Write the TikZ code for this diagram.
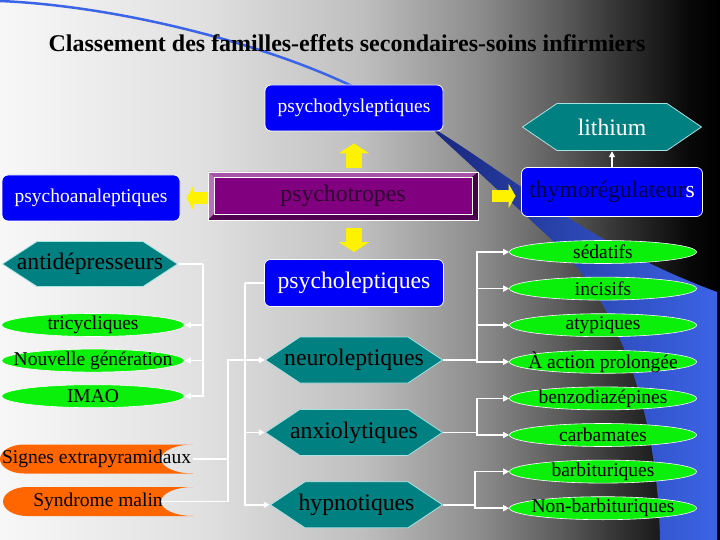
\documentclass[tikz,border=0pt]{standalone}
\usepackage{fontspec}
\setmainfont{Liberation Serif}
\usetikzlibrary{positioning,arrows.meta,shapes.geometric}

\definecolor{boxblue}{RGB}{0,0,250}
\definecolor{hexteal}{RGB}{0,128,128}
\definecolor{hexedge}{RGB}{170,225,225}
\definecolor{pillgreen}{RGB}{10,240,10}
\definecolor{taborange}{RGB}{255,102,0}
\definecolor{tropmid}{RGB}{128,0,128}
\definecolor{tropleft}{RGB}{184,112,184}
\definecolor{troptop}{RGB}{164,84,164}
\definecolor{tropdark}{RGB}{70,0,70}
\definecolor{tropink}{RGB}{45,0,45}
\definecolor{thymink}{RGB}{0,0,70}
\definecolor{arcblue}{RGB}{60,100,230}
\definecolor{arcnavy}{RGB}{25,40,125}

\pgfdeclarehorizontalshading{bgfade}{100bp}{color(0bp)=(white!97!black); color(25bp)=(white!97!black);
  color(38.9bp)=(white!88!black); color(50bp)=(white!75!black); color(58.3bp)=(white!55!black);
  color(63.9bp)=(white!36!black); color(68bp)=(white!20!black); color(72.9bp)=(white!3!black);
  color(75bp)=(black); color(100bp)=(black)}

\newcommand{\titlelab}{\fontsize{24pt}{26pt}\selectfont\bfseries}
\newcommand{\largelab}{\fontsize{23.7pt}{26pt}\selectfont}
\newcommand{\smalllab}{\fontsize{19.5pt}{22pt}\selectfont}

\begin{document}
\begin{tikzpicture}[x=1pt,y=-1pt,
    every node/.style={inner sep=0pt},
    rbox/.style={rectangle,rounded corners=6pt,fill=boxblue,draw=white,line width=0.8pt,
      minimum width=179pt,minimum height=47pt,text=white,font=\largelab},
    hexa/.style={rectangle,minimum width=178pt,minimum height=47pt,font=\largelab,
      path picture={\fill[hexteal,draw=hexedge,line width=0.8pt]
        ([xshift=0.5pt]path picture bounding box.west)
        -- ([xshift=35pt,yshift=-0.5pt]path picture bounding box.north west)
        -- ([xshift=-35pt,yshift=-0.5pt]path picture bounding box.north east)
        -- ([xshift=-0.5pt]path picture bounding box.east)
        -- ([xshift=-35pt,yshift=0.5pt]path picture bounding box.south east)
        -- ([xshift=35pt,yshift=0.5pt]path picture bounding box.south west) -- cycle;}},
    pill/.style={ellipse,fill=pillgreen,draw=white,line width=0.6pt,minimum width=187pt,
      minimum height=23pt,inner xsep=-20pt,inner ysep=-10pt,font=\smalllab},
    tab/.style={rectangle,minimum width=193pt,minimum height=29pt,font=\smalllab,
      path picture={\fill[taborange]
        ([xshift=24pt]path picture bounding box.north west) -- (path picture bounding box.north east)
        arc[start angle=90,end angle=270,x radius=32pt,y radius=14.5pt]
        -- ([xshift=24pt]path picture bounding box.south west)
        arc[start angle=270,end angle=90,x radius=24pt,y radius=14.5pt] -- cycle;}},
    tropbox/.style={rectangle,fill=tropmid,draw=white,line width=0.8pt,minimum width=270pt,
      minimum height=48pt,font=\largelab,text=tropink,
      path picture={
        \fill[troptop] (path picture bounding box.north west) -- (path picture bounding box.north east)
          -- ([shift={(-6pt,-5pt)}]path picture bounding box.north east)
          -- ([shift={(6pt,-5pt)}]path picture bounding box.north west) -- cycle;
        \fill[tropleft] (path picture bounding box.north west) -- (path picture bounding box.south west)
          -- ([shift={(6pt,6pt)}]path picture bounding box.south west)
          -- ([shift={(6pt,-5pt)}]path picture bounding box.north west) -- cycle;
        \fill[tropdark] (path picture bounding box.north east) -- (path picture bounding box.south east)
          -- ([shift={(-6pt,6pt)}]path picture bounding box.south east)
          -- ([shift={(-6pt,-5pt)}]path picture bounding box.north east) -- cycle;
        \fill[tropdark!80!tropmid] (path picture bounding box.south west) -- (path picture bounding box.south east)
          -- ([shift={(-6pt,6pt)}]path picture bounding box.south east)
          -- ([shift={(6pt,6pt)}]path picture bounding box.south west) -- cycle;
        \draw[white,line width=0.6pt] ([shift={(6pt,-5pt)}]path picture bounding box.north west)
          rectangle ([shift={(-6pt,6pt)}]path picture bounding box.south east);}},
    link/.style={white,line width=1.6pt,-{Triangle[length=6pt,width=6pt]}},
    wire/.style={white,line width=1.6pt},
    vertarrow/.style={yellow,line width=16pt,-{Triangle[length=10pt,width=30pt]}},
    horzarrow/.style={yellow,line width=12pt,-{Triangle[length=7pt,width=24pt]}}]

  % background
  \useasboundingbox (0,0) rectangle (720,540);
  \shade[shading=bgfade] (0,0) rectangle (720,540);
  \draw[arcblue,line width=2.5pt] (0,1) .. controls (120,6) and (270,45) .. (360,90);
  \shade[left color=arcnavy,right color=arcblue] (433,128) .. controls (520,182) and (590,245) .. (717,292)
    -- (717,540) -- (660,540) .. controls (658,430) and (628,310) .. (550,238)
    -- (436,133) -- cycle;

  \node[font=\titlelab] (title) at (347,43) {Classement des familles-effets secondaires-soins infirmiers};

  % families
  \node[tropbox] (trop) at (343,196) {psychotropes};
  \node[rbox,minimum width=178pt,minimum height=46pt,font=\smalllab] (dysl) at (354,108) {psychodysleptiques};
  \node[rbox,minimum width=178pt,minimum height=46pt,font=\smalllab] (anal) at (91,198) {psychoanaleptiques};
  \node[rbox,minimum width=181pt,minimum height=49pt,text=thymink] (thym) at (612,192) {thymorégulateur\textcolor{white}{s}};
  \node[rbox] (lept) at (354,283) {psycholeptiques};
  \node[hexa,minimum width=180pt,minimum height=48pt,text=white] (lith) at (612,127) {lithium};

  % antidepresseurs
  \node[hexa,minimum width=176pt,minimum height=46pt] (antid) at (90,264) {antidépresseurs};
  \node[pill,minimum width=183pt] (tric) at (93,325) {tricycliques};
  \node[pill,minimum width=183pt,below=12pt of tric] (nouv) {Nouvelle génération};
  \node[pill,minimum width=183pt,below=12pt of nouv] (imao) {IMAO};

  % effets secondaires
  \node[tab] (signes) at (96.5,459) {Signes extrapyramidaux};
  \node[tab,minimum width=190pt] (synd) at (98,501.5) {Syndrome malin};

  % psycholeptiques
  \node[hexa] (neuro) at (354,360) {neuroleptiques};
  \node[hexa,below=25pt of neuro] (anxio) {anxiolytiques};
  \node[hexa,minimum width=173pt,below=25pt of anxio,xshift=2.5pt] (hypno) {hypnotiques};

  \node[pill] (sed) at (603,252) {sédatifs};
  \node[pill,below=13pt of sed] (inc) {incisifs};
  \node[pill,below=13pt of inc] (aty) {atypiques};
  \node[pill,below=13pt of aty] (prol) {À action prolongée};
  \node[pill,below=13pt of prol] (benzo) {benzodiazépines};
  \node[pill,below=13pt of benzo] (carb) {carbamates};
  \node[pill,below=13pt of carb] (barb) {barbituriques};
  \node[pill,below=13pt of barb] (nonbarb) {Non-barbituriques};

  % block arrows
  \draw[vertarrow,shorten <=4pt,shorten >=12pt] (trop.north -| dysl) -- (dysl.south);
  \draw[vertarrow,shorten <=8pt,shorten >=7pt] (trop.south -| lept) -- (lept.north);
  \draw[horzarrow,shorten >=6pt] (trop.west |- anal) -- (anal.east);
  \draw[horzarrow,shorten <=14pt,shorten >=5.5pt] (trop.east) -- (trop.east -| thym.west);

  \draw[link] (thym) -- (lith);

  % branches
  \coordinate (abus) at ([xshift=25pt]antid.east);
  \draw[wire] (antid.east) -- (abus);
  \foreach \n in {tric,nouv,imao}
    \draw[link] (abus) |- (\n.east);

  \coordinate (lbus) at ([xshift=-19pt]lept.west);
  \draw[wire] (lept.west) -- (lbus);
  \foreach \n in {neuro,anxio,hypno}
    \draw[link] (lbus) |- (\n.west);

  \coordinate (sbus) at ([xshift=35pt]signes.east);
  \draw[wire] (signes.east) -- (sbus);
  \draw[link] ([xshift=-32pt]synd.east) -| (sbus) |- (neuro.west);

  \coordinate (nbus) at ([xshift=34pt]neuro.east);
  \draw[wire] (neuro.east) -- (nbus);
  \foreach \n in {sed,inc,aty,prol}
    \draw[link] (nbus) |- (\n.west);

  \coordinate (xbus) at ([xshift=34pt]anxio.east);
  \draw[wire] (anxio.east) -- (xbus);
  \foreach \n in {benzo,carb}
    \draw[link] (xbus) |- (\n.west);

  \coordinate (hbus) at ([xshift=34pt-2.5pt]hypno.east);
  \draw[wire] (hypno.east) -- (hbus);
  \foreach \n in {barb,nonbarb}
    \draw[link] (hbus) |- (\n.west);
\end{tikzpicture}
\end{document}
